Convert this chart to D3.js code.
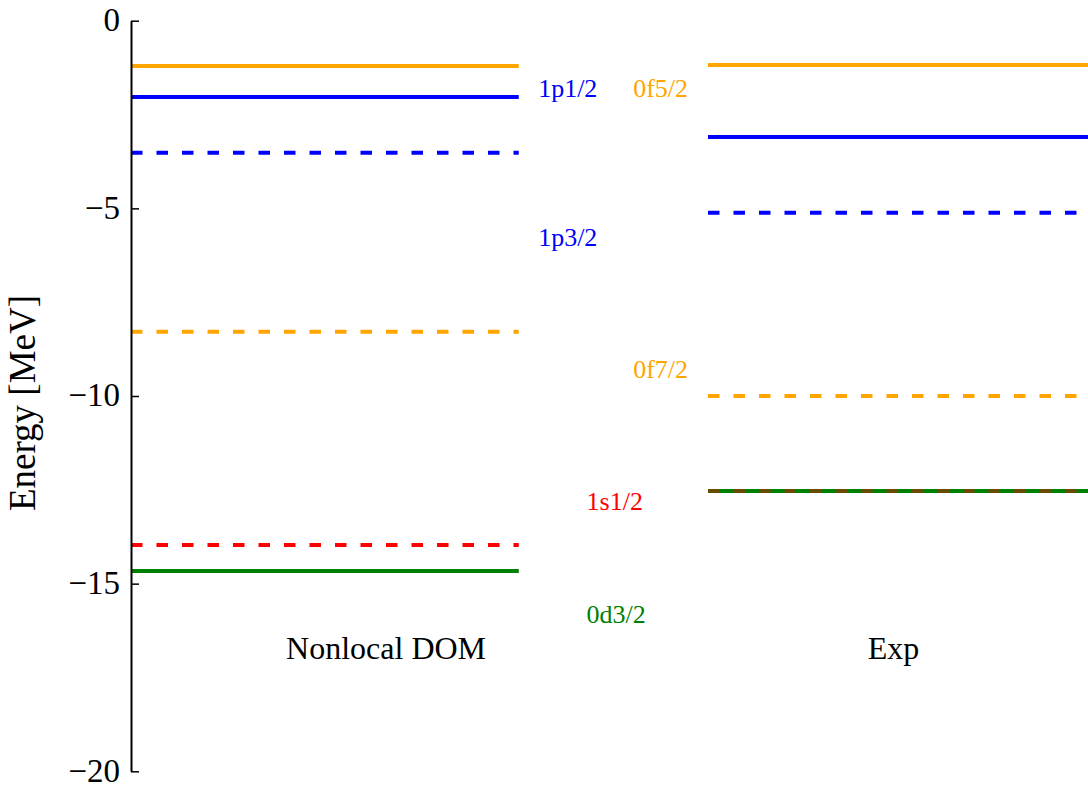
<!DOCTYPE html>
<html lang="en">
<head>
<meta charset="utf-8">
<title>Single-particle levels</title>
<script src="https://cdn.jsdelivr.net/npm/d3@7"></script>
<style>
  body { margin: 0; background: #fff; }
  svg text { font-family: "Liberation Serif", "Times New Roman", serif; }
</style>
</head>
<body>
<div id="chart"></div>
<script>
// level energies in MeV
var levelNames   = ["0f5/2", "1p1/2", "1p3/2", "0f7/2", "0d3/2", "1s1/2"];
var domEnergies  = [-1.21, -2.03, -3.52, -8.29, -14.66, -13.97];
var expEnergies  = [-1.18, -3.10, -5.12, -10.0, -12.53, -12.53];

// column placement in x data units
var columnNames  = ["Nonlocal DOM", "Exp"];
var columnStart  = [0, 1.488];
var columnEnd    = [1, 2.5];
var columnLabelX = [0.4, 1.9];
var columnLabelY = -17;

// level annotations
var noteText = ["1p1/2", "1p3/2", "0f5/2", "0f7/2", "1s1/2", "0d3/2"];
var noteX    = [1.05, 1.05, 1.295, 1.295, 1.175, 1.175];
var noteY    = [-2.03, -6.0, -2.03, -9.52, -13.05, -16.05];

var yTicks = [0, -5, -10, -15, -20];

var colorOf = {
  "0f5/2": "#ffa500", "0f7/2": "#ffa500",
  "1p1/2": "#0000ff", "1p3/2": "#0000ff",
  "1s1/2": "#ff0000", "0d3/2": "#008000"
};
var dashedStates = ["1p3/2", "0f7/2", "1s1/2"];

var width = 1088, height = 789;
var left = 131;

var x = d3.scaleLinear().domain([0, 2.468]).range([left, width]);
var y = d3.scaleLinear().domain([0, -20]).range([20.7, 771.3]);

var svg = d3.select("#chart").append("svg")
    .attr("width", width)
    .attr("height", height);

// flatten levels: one row per (column, state)
var levels = [];
[domEnergies, expEnergies].forEach(function(energies, c) {
  levelNames.forEach(function(name, i) {
    levels.push({col: c, name: name, e: energies[i]});
  });
});

svg.append("g").selectAll("line")
  .data(levels)
  .enter()
  .append("line")
  .attr("x1", function(d) { return x(columnStart[d.col]); })
  .attr("x2", function(d) { return x(columnEnd[d.col]); })
  .attr("y1", function(d) { return y(d.e); })
  .attr("y2", function(d) { return y(d.e); })
  .attr("stroke", function(d) { return colorOf[d.name]; })
  .attr("stroke-width", 4)
  .attr("stroke-dasharray", function(d) {
    return dashedStates.indexOf(d.name) >= 0 ? "11.5,14" : null;
  })
  // exp 1s1/2 sits on top of 0d3/2
  .attr("opacity", function(d) {
    return (d.col == 1 && d.name == "1s1/2") ? 0.4 : 1;
  });

// axis, ticks point inward
var yAxis = d3.axisLeft(y)
    .tickValues(yTicks)
    .tickSizeInner(-8)
    .tickSizeOuter(0)
    .tickPadding(11)
    .tickFormat(d3.format("d"));

var ax = svg.append("g")
    .attr("transform", "translate(" + left + ",0)")
    .call(yAxis);
ax.select(".domain").attr("stroke", "#000").attr("stroke-width", 2);
ax.selectAll(".tick line").attr("stroke", "#000").attr("stroke-width", 1.5);
ax.selectAll(".tick text")
  .attr("font-family", "Liberation Serif")
  .attr("font-size", 33)
  .attr("fill", "#000")
  .attr("dy", "0.3em");

svg.append("text")
  .attr("transform", "translate(35," + 403 + ") rotate(-90)")
  .attr("text-anchor", "middle")
  .attr("font-size", 37)
  .text("Energy [MeV]");

svg.append("g").selectAll("text")
  .data(columnNames)
  .enter()
  .append("text")
  .attr("x", function(d, i) { return x(columnLabelX[i]); })
  .attr("y", y(columnLabelY))
  .attr("font-size", 32)
  .text(function(d) { return d; });

svg.append("g").selectAll("text")
  .data(noteText)
  .enter()
  .append("text")
  .attr("x", function(d, i) { return x(noteX[i]); })
  .attr("y", function(d, i) { return y(noteY[i]); })
  .attr("font-size", 26)
  .attr("fill", function(d) { return colorOf[d]; })
  .text(function(d) { return d; });
</script>
</body>
</html>
